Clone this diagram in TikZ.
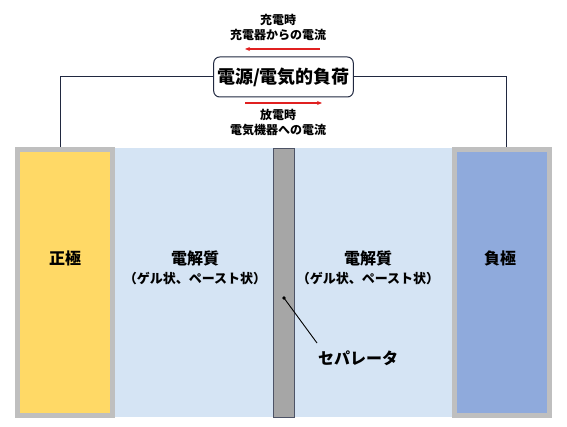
\documentclass[tikz,border=0pt]{standalone}
\usepackage{fontspec}
\newfontfamily\jpfont{Noto Sans CJK JP}
\usetikzlibrary{arrows.meta,positioning}
\definecolor{elgray}{RGB}{191,191,191}
\definecolor{posyellow}{RGB}{255,217,102}
\definecolor{negblue}{RGB}{143,170,220}
\definecolor{lytblue}{RGB}{213,228,244}
\definecolor{sepgray}{RGB}{166,166,166}
\definecolor{wirenavy}{RGB}{32,40,64}
\definecolor{flowred}{RGB}{224,32,32}
\tikzset{
  electrode/.style={draw=elgray,line width=5pt,minimum width=95pt,minimum height=266pt,inner sep=0pt},
  wire/.style={draw=wirenavy,line width=1pt},
  flow/.style={draw=flowred,line width=1.2pt,-{Stealth[length=5pt,width=4pt]}},
  biglabel/.style={font=\jpfont\bfseries\fontsize{16}{19}\selectfont},
  sublabel/.style={font=\jpfont\bfseries\fontsize{12}{15}\selectfont,align=center},
  paren/.style={font=\jpfont\bfseries\fontsize{13}{16}\selectfont}
}
\begin{document}
\begin{tikzpicture}[x=1pt,y=-1pt]
\useasboundingbox (0,0) rectangle (567,427);
% electrolyte and separator
\fill[lytblue] (115,148) rectangle (452,417);
\filldraw[fill=sepgray,draw=wirenavy!80,line width=0.8pt] (273,148) rectangle (294,417);
% electrodes
\node[electrode,fill=posyellow] (pos) at (65,282.5) {};
\node[electrode,fill=negblue] (neg) at (502,282.5) {};
\node[biglabel] at (65,258) {正極};
\node[biglabel] at (500,258) {負極};
% load
\node[draw=wirenavy,line width=1pt,rounded corners=6pt,fill=white,minimum width=137pt,minimum height=40pt,
  font=\jpfont\bfseries\fontsize{18}{20}\selectfont] (load) at (283.5,77) {電源/電気的負荷};
\draw[wire] ([xshift=-5pt]pos.north) |- (load.west);
\draw[wire] ([xshift=4pt]neg.north) |- (load.east);
% currents
\node[sublabel] (chg) at (278,27.5) {充電時\\充電器からの電流};
\node[sublabel] (dis) at (278,122.5) {放電時\\電気機器への電流};
\coordinate (chgA) at (320,49);
\coordinate (chgB) at (245,49);
\coordinate (disA) at (245,103);
\coordinate (disB) at (322,103);
\draw[flow] (chgA) -- (chgB);
\draw[flow] (disA) -- (disB);
% electrolyte labels
\node[biglabel] (lytL) at (195,258) {電解質};
\node[paren,below=0pt of lytL] {（ゲル状、ペースト状）};
\node[biglabel] (lytR) at (368,258) {電解質};
\node[paren,below=0pt of lytR] {（ゲル状、ペースト状）};
% separator pointer
\node[biglabel] (seplab) at (358,358) {セパレータ};
\coordinate (sepdot) at (284,298);
\coordinate (sepend) at (317,343);
\draw[line width=0.9pt] (sepdot) -- (sepend);
\fill (sepdot) circle (1.8);
\end{tikzpicture}
\end{document}
